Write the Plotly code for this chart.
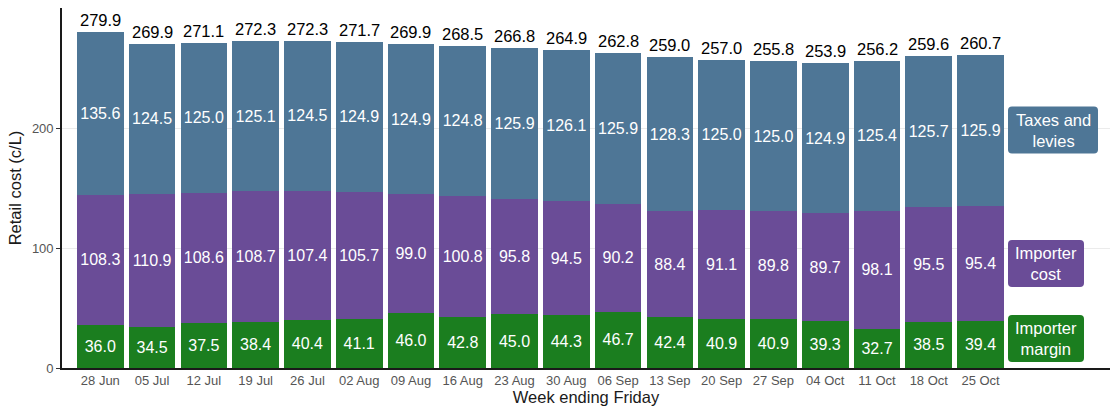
import plotly.graph_objects as go

# Weekly retail fuel cost breakdown (cents per litre)
weeks = ["28 Jun", "05 Jul", "12 Jul", "19 Jul", "26 Jul", "02 Aug", "09 Aug", "16 Aug",
         "23 Aug", "30 Aug", "06 Sep", "13 Sep", "20 Sep", "27 Sep", "04 Oct", "11 Oct",
         "18 Oct", "25 Oct"]
importer_margin = [36.0, 34.5, 37.5, 38.4, 40.4, 41.1, 46.0, 42.8, 45.0, 44.3, 46.7, 42.4,
                   40.9, 40.9, 39.3, 32.7, 38.5, 39.4]
importer_cost = [108.3, 110.9, 108.6, 108.7, 107.4, 105.7, 99.0, 100.8, 95.8, 94.5, 90.2,
                 88.4, 91.1, 89.8, 89.7, 98.1, 95.5, 95.4]
taxes_levies = [135.6, 124.5, 125.0, 125.1, 124.5, 124.9, 124.9, 124.8, 125.9, 126.1, 125.9,
                128.3, 125.0, 125.0, 124.9, 125.4, 125.7, 125.9]
retail_total = [279.9, 269.9, 271.1, 272.3, 272.3, 271.7, 269.9, 268.5, 266.8, 264.9, 262.8,
                259.0, 257.0, 255.8, 253.9, 256.2, 259.6, 260.7]

BLUE, PURPLE, GREEN = "#4e7696", "#6a4c97", "#1b7e1f"
series = [
    ("Importer margin", importer_margin, GREEN),
    ("Importer cost", importer_cost, PURPLE),
    ("Taxes and levies", taxes_levies, BLUE),
]

FONT = "Liberation Sans, Arial, sans-serif"
W, H = 1114, 410
ML, MR, MT, MB = 62, 4, 8, 42
XR = [-0.74, 19.5]
YR = [0, 300]
xpos = list(range(len(weeks)))

# pixel size of one data unit on each axis
px_per_x = (W - ML - MR) / (XR[1] - XR[0])
px_per_y = (H - MT - MB) / (YR[1] - YR[0])

fig = go.Figure()
for name, vals, col in series:
    fig.add_trace(go.Bar(
        x=xpos, y=vals, name=name,
        marker=dict(color=col, line=dict(width=0)),
        text=[f"{v:.1f}" for v in vals],
        textposition="inside", insidetextanchor="middle",
        textfont=dict(color="white", size=16, family=FONT),
        constraintext="none",
        showlegend=False,
    ))

# Totals above each stacked bar
stack_top = [a + b + c for a, b, c in zip(importer_margin, importer_cost, taxes_levies)]
for i, (top, tot) in enumerate(zip(stack_top, retail_total)):
    fig.add_annotation(x=i, y=top, text=f"{tot:.1f}", showarrow=False,
                       yanchor="bottom", yshift=1,
                       font=dict(size=16.5, color="black", family=FONT))


def rounded_box(x_left, y_mid, w_px, h_px, r_px=4):
    """Rounded rectangle path in data coordinates, sized in pixels."""
    x0 = x_left
    x1 = x_left + w_px / px_per_x
    y0 = y_mid - h_px / 2 / px_per_y
    y1 = y_mid + h_px / 2 / px_per_y
    rx = r_px / px_per_x
    ry = r_px / px_per_y
    return (f"M {x0 + rx},{y0} L {x1 - rx},{y0} Q {x1},{y0} {x1},{y0 + ry} "
            f"L {x1},{y1 - ry} Q {x1},{y1} {x1 - rx},{y1} L {x0 + rx},{y1} "
            f"Q {x0},{y1} {x0},{y1 - ry} L {x0},{y0 + ry} Q {x0},{y0} {x0 + rx},{y0} Z")


# Series labels placed beside the final bar
last = len(weeks) - 1
m, c, t = importer_margin[last], importer_cost[last], taxes_levies[last]
label_left = 17.53
labels = [
    ("Taxes and<br>levies", m + c + t / 2 + 0.5, BLUE, 90),
    ("Importer<br>cost", m + c / 2, PURPLE, 76),
    ("Importer<br>margin", 24.6, GREEN, 76),
]
for txt, yv, col, w in labels:
    fig.add_shape(type="path", path=rounded_box(label_left, yv, w, 47),
                  xref="x", yref="y", fillcolor=col, line=dict(width=0), layer="above")
    fig.add_annotation(x=label_left + w / 2 / px_per_x, y=yv, text=txt, showarrow=False,
                       xanchor="center", yanchor="middle", align="center",
                       font=dict(size=16.5, color="white", family=FONT))

fig.update_layout(
    width=W, height=H,
    margin=dict(l=ML, r=MR, t=MT, b=MB),
    barmode="stack", bargap=0.1,
    plot_bgcolor="white", paper_bgcolor="white",
    font=dict(family=FONT),
    xaxis=dict(
        range=XR, tickmode="array", tickvals=xpos, ticktext=weeks,
        showgrid=False, zeroline=False, ticks="",
        showline=True, linecolor="#1a1a1a", linewidth=1.6,
        tickfont=dict(size=13, color="#555555"),
        title=dict(text="Week ending Friday", font=dict(size=16.5, color="#1a1a1a"),
                   standoff=2),
    ),
    yaxis=dict(
        range=YR, tickvals=[0, 100, 200], ticks="outside", ticklen=4,
        tickcolor="#333333", showgrid=True, gridcolor="#ebebeb", gridwidth=1,
        zeroline=False, showline=True, linecolor="#1a1a1a", linewidth=1.6,
        tickfont=dict(size=13, color="#555555"),
        title=dict(text="Retail cost (c/L)", font=dict(size=16.5, color="#1a1a1a"),
                   standoff=6),
    ),
)

fig.write_html("out.html")
